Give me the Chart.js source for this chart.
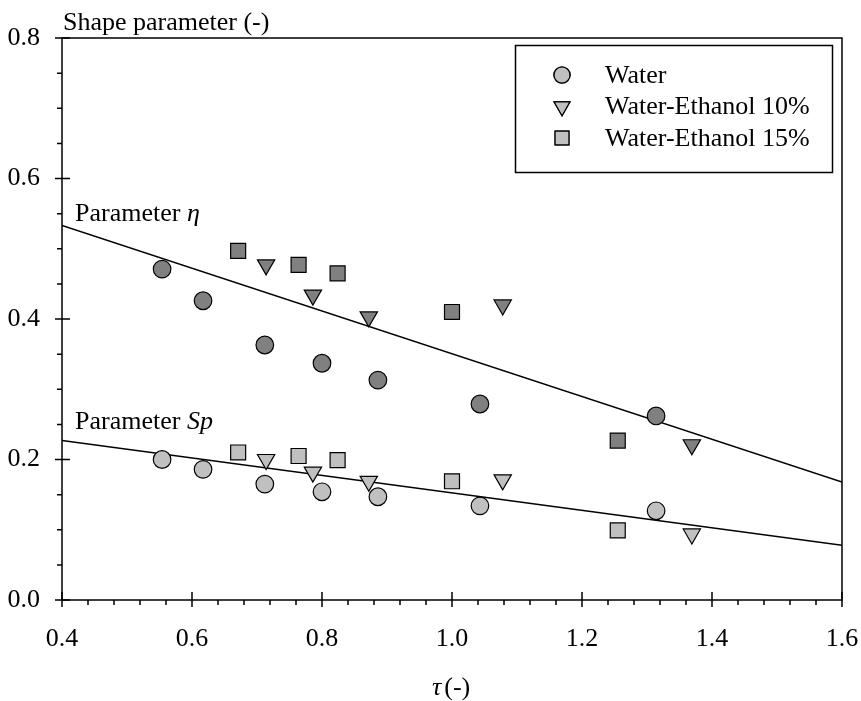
<!DOCTYPE html>
<html>
<head>
<meta charset="utf-8">
<script src="https://cdn.jsdelivr.net/npm/chart.js@4.4.1/dist/chart.umd.min.js"></script>
<style>
  html, body { margin: 0; padding: 0; background: #fff; }
  #wrap { width: 861px; height: 701px; }
</style>
</head>
<body>
<div id="wrap"><canvas id="grafica" width="861" height="701"></canvas></div>
<script>
// datos
var tauWater = [0.554, 0.617, 0.712, 0.800, 0.886, 1.043, 1.314];
var etaWater = [0.471, 0.426, 0.363, 0.337, 0.313, 0.279, 0.262];
var spWater  = [0.200, 0.186, 0.165, 0.154, 0.147, 0.134, 0.127];

var tauEt10 = [0.714, 0.786, 0.872, 1.078, 1.369];
var etaEt10 = [0.477, 0.434, 0.403, 0.420, 0.221];
var spEt10  = [0.200, 0.182, 0.169, 0.171, 0.094];

var tauEt15 = [0.671, 0.764, 0.824, 1.000, 1.255];
var etaEt15 = [0.497, 0.477, 0.465, 0.410, 0.227];
var spEt15  = [0.210, 0.205, 0.199, 0.169, 0.099];

var tauFit = [0.4, 1.6];
var etaFit = [0.533, 0.168];
var spFit  = [0.227, 0.078];

var seriesNames = ["Water", "Water-Ethanol 10%", "Water-Ethanol 15%"];
var xTicks = [0.4, 0.6, 0.8, 1.0, 1.2, 1.4, 1.6];
var yTicks = [0.0, 0.2, 0.4, 0.6, 0.8];

var FONT = "'Liberation Serif', 'Times New Roman', serif";
var SIZE = 26;
var DARK = "#808080";
var LIGHT = "#c0c0c0";

function puntos(xs, ys){
    var arr = [];
    for (var i = 0; i < xs.length; i++){
        arr.push({x: xs[i], y: ys[i]});
    }
    return arr;
}

function serieMarcas(xs, ys, color, estilo, radio){
    return {
        data: puntos(xs, ys),
        showLine: false,
        pointStyle: estilo,
        pointRotation: estilo === "triangle" ? 180 : 0,
        pointRadius: radio,
        pointHoverRadius: radio,
        pointBackgroundColor: color,
        pointBorderColor: "#000",
        pointBorderWidth: 1.2,
        order: 1
    };
}

function serieLinea(ys){
    return {
        data: puntos(tauFit, ys),
        showLine: true,
        borderColor: "#000",
        borderWidth: 1.5,
        pointRadius: 0,
        fill: false,
        order: 10
    };
}

var estilos = [["circle", 8.8], ["triangle", 10], ["rect", 10.6]];

var datasets = [
    serieMarcas(tauWater, etaWater, DARK, "circle", 8.8),
    serieMarcas(tauEt10, etaEt10, DARK, "triangle", 10),
    serieMarcas(tauEt15, etaEt15, DARK, "rect", 10.6),
    serieMarcas(tauWater, spWater, LIGHT, "circle", 8.8),
    serieMarcas(tauEt10, spEt10, LIGHT, "triangle", 10),
    serieMarcas(tauEt15, spEt15, LIGHT, "rect", 10.6),
    serieLinea(etaFit),
    serieLinea(spFit)
];

function textoMixto(ctx, x, y, partes){
    partes.forEach(function(p){
        ctx.font = (p[1] ? "italic " : "") + SIZE + "px " + FONT;
        ctx.fillText(p[0], x, y);
        x += ctx.measureText(p[0]).width + (p[2] || 0);
    });
}

var decoracion = {
    id: "decoracion",
    afterDraw: function(chart){
        var ctx = chart.ctx;
        var a = chart.chartArea;
        var sx = chart.scales.x, sy = chart.scales.y;
        ctx.save();
        ctx.strokeStyle = "#000";
        ctx.fillStyle = "#000";
        ctx.lineWidth = 1.5;

        // marco
        ctx.beginPath();
        ctx.moveTo(a.left, a.bottom);
        ctx.lineTo(a.left, a.top);
        ctx.lineTo(a.right, a.top);
        ctx.lineTo(a.right, a.bottom);
        ctx.lineTo(a.left, a.bottom);
        ctx.stroke();

        // marcas del eje y
        ctx.beginPath();
        for (var v = 0; v <= 16; v++){
            var py = sy.getPixelForValue(v * 0.05);
            if (v % 4 === 0){
                ctx.moveTo(a.left - 7, py);
                ctx.lineTo(a.left + 8, py);
            } else {
                ctx.moveTo(a.left - 5, py);
                ctx.lineTo(a.left, py);
            }
        }
        // marcas del eje x
        for (var k = 0; k <= 30; k++){
            var px = sx.getPixelForValue(0.4 + k * 0.04);
            if (k % 5 === 0){
                ctx.moveTo(px, a.bottom - 8);
                ctx.lineTo(px, a.bottom + 7);
            } else {
                ctx.moveTo(px, a.bottom);
                ctx.lineTo(px, a.bottom + 5);
            }
        }
        ctx.stroke();

        // textos
        ctx.textBaseline = "alphabetic";
        ctx.textAlign = "left";
        textoMixto(ctx, 63, 30, [["Shape parameter (-)", false]]);
        textoMixto(ctx, 75, 221, [["Parameter ", false], ["\u03B7", true]]);
        textoMixto(ctx, 75, 429, [["Parameter ", false], ["Sp", true]]);
        textoMixto(ctx, 432, 695, [["\u03C4", true, 3], ["(-)", false]]);

        // leyenda
        ctx.lineWidth = 1.5;
        ctx.strokeRect(515.5, 45.5, 317, 127);
        for (var i = 0; i < seriesNames.length; i++){
            var ly = 75 + i * 31.5;
            Chart.helpers.drawPoint(ctx, {
                pointStyle: estilos[i][0],
                rotation: estilos[i][0] === "triangle" ? 180 : 0,
                radius: estilos[i][1] - 0.8,
                borderWidth: 1.2
            }, 562, ly);
            ctx.fillStyle = LIGHT;
            ctx.strokeStyle = "#000";
            ctx.lineWidth = 1.2;
            ctx.fill();
            ctx.stroke();
            ctx.fillStyle = "#000";
            ctx.font = SIZE + "px " + FONT;
            ctx.textBaseline = "middle";
            ctx.fillText(seriesNames[i], 605, ly + 1);
        }
        ctx.restore();
    }
};

var ctx = document.getElementById("grafica").getContext("2d");
var miGrafica = new Chart(ctx, {
    type: "scatter",
    data: { datasets: datasets },
    options: {
        responsive: false,
        animation: false,
        layout: { padding: { top: 38, right: 19, left: 0, bottom: 0 } },
        plugins: {
            legend: { display: false },
            tooltip: { enabled: false }
        },
        scales: {
            x: {
                type: "linear",
                min: 0.4,
                max: 1.6,
                afterBuildTicks: function(scale){
                    scale.ticks = xTicks.map(function(v){ return {value: v}; });
                },
                afterFit: function(scale){
                    scale.height = 101;
                    scale.paddingLeft = 0;
                    scale.paddingRight = 0;
                },
                grid: { display: false, drawTicks: false },
                border: { display: false },
                ticks: {
                    color: "#000",
                    padding: 24,
                    font: { family: FONT, size: SIZE },
                    callback: function(v){ return v.toFixed(1); }
                }
            },
            y: {
                type: "linear",
                min: 0,
                max: 0.8,
                afterBuildTicks: function(scale){
                    scale.ticks = yTicks.map(function(v){ return {value: v}; });
                },
                afterFit: function(scale){
                    scale.width = 62;
                    scale.paddingTop = 0;
                    scale.paddingBottom = 0;
                },
                grid: { display: false, drawTicks: false },
                border: { display: false },
                ticks: {
                    color: "#000",
                    padding: 22,
                    font: { family: FONT, size: SIZE },
                    callback: function(v){ return v.toFixed(1); }
                }
            }
        }
    },
    plugins: [decoracion]
});
</script>
</body>
</html>
